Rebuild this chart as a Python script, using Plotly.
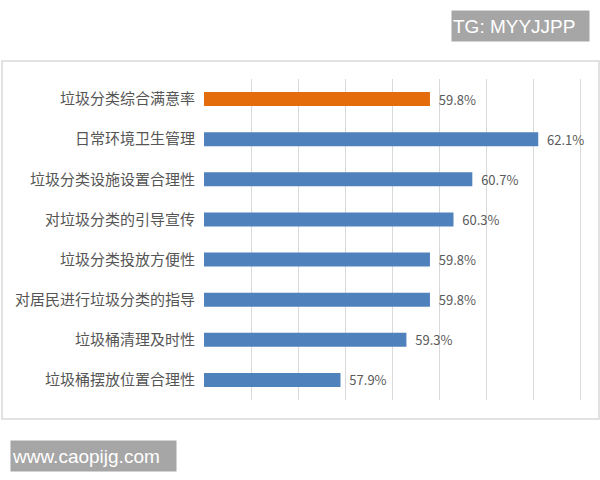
import plotly.graph_objects as go

categories = ["垃圾分类综合满意率", "日常环境卫生管理", "垃圾分类设施设置合理性", "对垃圾分类的引导宣传",
              "垃圾分类投放方便性", "对居民进行垃圾分类的指导", "垃圾桶清理及时性", "垃圾桶摆放位置合理性"]
values = [59.8, 62.1, 60.7, 60.3, 59.8, 59.8, 59.3, 57.9]
bar_colors = ["#E46C0A", "#4F81BD", "#4F81BD", "#4F81BD", "#4F81BD", "#4F81BD", "#4F81BD", "#4F81BD"]
labels = [f"{v:.1f}%" for v in values]
grid_ticks = [55, 56, 57, 58, 59, 60, 61, 62, 63]

W, H = 600, 480
L, R, T, B = 204, 18, 79, 80

def px(x):
    return (x - L) / (W - L - R)

def py(y):
    return 1 - (y - T) / (H - T - B)

fig = go.Figure()
fig.add_trace(go.Bar(
    x=values, y=categories, orientation="h",
    marker=dict(color=bar_colors, line=dict(width=0)),
    text=["\u00a0\u00a0" + t for t in labels], textposition="outside",
    textfont=dict(family="Noto Sans CJK SC", size=13, color="#5a5a5a"),
    constraintext="none",
    cliponaxis=False, width=0.35,
))

fig.update_layout(
    width=W, height=H,
    margin=dict(l=L, r=R, t=T, b=B),
    paper_bgcolor="white", plot_bgcolor="white",
    showlegend=False,
    font=dict(family="Noto Sans CJK SC", color="#404040"),
    xaxis=dict(range=[55, 63.03], tickvals=grid_ticks,
               showgrid=True, gridcolor="#d9d9d9", gridwidth=1,
               showticklabels=False, zeroline=False, showline=False, ticks=""),
    yaxis=dict(autorange="reversed", showgrid=False, showline=False, ticks="",
               tickfont=dict(family="Noto Sans CJK SC", size=15, color="#555555"),
               ticklabelstandoff=8),
    shapes=[
        dict(type="rect", xref="paper", yref="paper",
             x0=px(2), x1=px(599), y0=py(61), y1=py(419),
             line=dict(color="#d9d9d9", width=1.5), layer="below"),
    ],
    annotations=[
        dict(xref="paper", yref="paper", x=px(451), y=py(10), xanchor="left", yanchor="top",
             text="TG: MYYJJPP", showarrow=False, bgcolor="#a6a6a6",
             font=dict(family="Liberation Sans", size=19, color="white"),
             width=135, height=28, borderpad=1, align="left"),
        dict(xref="paper", yref="paper", x=px(10), y=py(440), xanchor="left", yanchor="top",
             text="www.caopijg.com", showarrow=False, bgcolor="#a6a6a6",
             font=dict(family="Liberation Sans", size=19, color="white"),
             width=163, height=28, borderpad=1, align="left"),
    ],
)

fig.write_html("out.html", config={"displayModeBar": False},
               post_script="document.body.style.margin='0';document.body.style.overflow='hidden';")
